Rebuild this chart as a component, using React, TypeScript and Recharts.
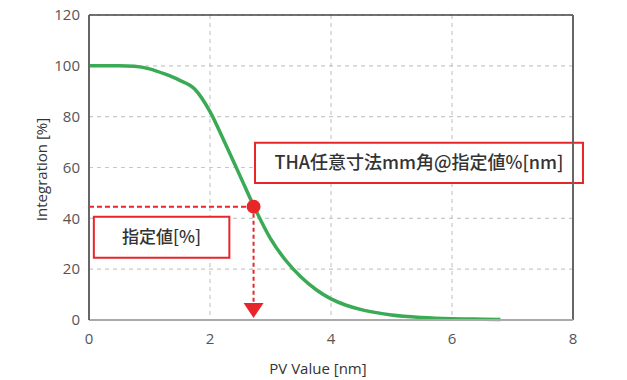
import {
  LineChart,
  Line,
  XAxis,
  YAxis,
  CartesianGrid,
  ReferenceLine,
  ReferenceDot,
  ReferenceArea,
} from 'recharts'

// PV value [nm] vs integration [%]
const pvValues = [0, 0.25, 0.5, 0.75, 1.0, 1.25, 1.5, 1.75, 2.0, 2.25, 2.5, 2.75, 3.0, 3.25, 3.5, 3.75, 4.0, 4.25, 4.5, 4.75, 5.0, 5.5, 6.0, 6.5, 6.8]
const integration = [100, 100, 100, 99.8, 98.8, 96.8, 94.3, 90.8, 82, 69.5, 56.5, 43.5, 32, 23.5, 17, 12, 8.3, 5.8, 4.1, 2.9, 2.0, 1.0, 0.5, 0.3, 0.2]

const xTicks = [0, 2, 4, 6, 8]
const yTicks = [0, 20, 40, 60, 80, 100, 120]

// the marked point: value at the specified %
const markX = 2.72
const markY = 44.6

const resultLabel = 'THA任意寸法mm角@指定値%[nm]'
const percentLabel = '指定値[%]'

const data = pvValues.map((x, i) => ({ x, y: integration[i] }))

const RED = '#e8262a'
const GREEN = '#3aaa55'
const FONT = '"Noto Sans CJK JP", "Noto Sans", sans-serif'
const LATIN = '"Open Sans", "Noto Sans", sans-serif'

function ArrowHead(props: any) {
  const { cx, cy } = props
  return (
    <polygon
      points={`${cx - 10},${cy - 17} ${cx + 10},${cy - 17} ${cx},${cy - 2}`}
      fill={RED}
    />
  )
}

export default function App() {
  return (
    <div style={{ position: 'absolute', left: 0, top: 0, background: '#fff', fontFamily: FONT }}>
      <LineChart
        width={627}
        height={380}
        data={data}
        margin={{ top: 15, right: 54, left: 0, bottom: 0 }}
      >
        <CartesianGrid stroke="#c8c8c8" strokeDasharray="4 4" strokeWidth={1.2} />
        <XAxis
          dataKey="x"
          type="number"
          domain={[0, 8]}
          ticks={xTicks}
          height={60}
          tickLine={false}
          tickSize={6}
          tickMargin={7}
          axisLine={{ stroke: '#aaa', strokeWidth: 2 }}
          tick={{ fill: '#555', fontSize: 15, fontFamily: LATIN }}
          label={{ value: 'PV Value [nm]', position: 'insideBottom', offset: 6, dx: -13, fill: '#333', fontSize: 15, fontFamily: LATIN }}
        />
        <YAxis
          type="number"
          domain={[0, 120]}
          ticks={yTicks}
          width={89}
          tickLine={false}
          tickSize={6}
          tickMargin={3}
          axisLine={{ stroke: '#666', strokeWidth: 2 }}
          tick={{ fill: '#555', fontSize: 15, fontFamily: LATIN }}
          label={{ value: 'Integration [%]', angle: -90, position: 'center', dx: -3, dy: 2, fill: '#333', fontSize: 15, fontFamily: LATIN }}
        />
        <ReferenceLine y={120} stroke="#444" strokeWidth={1.5} />
        <ReferenceLine x={8} stroke="#666" strokeWidth={2} />

        <ReferenceArea
          x1={2.744}
          x2={8.165}
          y1={53.9}
          y2={69.7}
          ifOverflow="visible"
          fill="#fff"
          fillOpacity={1}
          stroke={RED}
          strokeWidth={2}
          label={{ value: resultLabel, position: 'center', fill: '#333', fontSize: 18, fontWeight: 500, fontFamily: FONT }}
        />
        <ReferenceArea
          x1={0.08}
          x2={2.32}
          y1={24.5}
          y2={40.6}
          ifOverflow="visible"
          fill="#fff"
          fillOpacity={1}
          stroke={RED}
          strokeWidth={2}
          label={{ value: percentLabel, position: 'center', fill: '#333', fontSize: 17, fontWeight: 500, fontFamily: FONT }}
        />

        <ReferenceLine
          segment={[{ x: 0, y: markY }, { x: markX, y: markY }]}
          stroke={RED}
          strokeWidth={2}
          strokeDasharray="5 3"
          ifOverflow="visible"
        />
        <ReferenceLine
          segment={[{ x: markX, y: markY }, { x: markX, y: 6 }]}
          stroke={RED}
          strokeWidth={2}
          strokeDasharray="4 3"
          ifOverflow="visible"
        />
        <ReferenceDot x={markX} y={0} r={1} shape={ArrowHead} ifOverflow="visible" />

        <Line
          type="monotone"
          dataKey="y"
          stroke={GREEN}
          strokeWidth={3.5}
          dot={false}
          isAnimationActive={false}
        />
        <ReferenceDot x={markX} y={markY} r={7} fill={RED} stroke="none" ifOverflow="visible" />
      </LineChart>
    </div>
  )
}
